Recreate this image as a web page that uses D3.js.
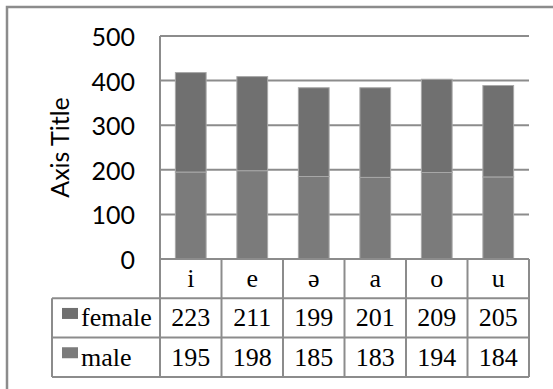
<!DOCTYPE html>
<html>
<head>
<meta charset="utf-8">
<script src="https://cdn.jsdelivr.net/npm/d3@7"></script>
<style>
  html, body { margin: 0; padding: 0; background: #fff; }
  svg { display: block; }
  .serif { font-family: "Liberation Serif", Tinos, "Times New Roman", Times, "DejaVu Serif", serif; }
</style>
</head>
<body>
<svg id="chart" width="553" height="389"></svg>
<script>
// Vowel values for two speaker groups, stacked per vowel
const categories = ["i", "e", "ə", "a", "o", "u"];
const femaleValues = [223, 211, 199, 201, 209, 205];
const maleValues = [195, 198, 185, 183, 194, 184];
const seriesNames = ["female", "male"];
const yTicks = [0, 100, 200, 300, 400, 500];
const yAxisTitle = "Axis Title";

const svg = d3.select("#chart");

const plot = { left: 160, right: 529, top: 36, bottom: 259 };
const table = { left: 52, rowH: 39.3 };

const x = d3.scaleBand().domain(categories).range([plot.left, plot.right]).padding(0);
const y = d3.scaleLinear().domain([0, 500]).range([plot.bottom, plot.top]);

const colors = { female: "#707070", male: "#7b7b7b" };
const lineColor = "#8c8c8c";

// outer chart frame (extends past the right and bottom edges)
svg.append("rect")
  .attr("x", 7).attr("y", 7)
  .attr("width", 600).attr("height", 450)
  .attr("fill", "none").attr("stroke", lineColor).attr("stroke-width", 2.5);

// horizontal gridlines
svg.append("g").selectAll("line")
  .data(yTicks.filter(d => d > 0))
  .join("line")
  .attr("x1", plot.left).attr("x2", plot.right)
  .attr("y1", d => y(d)).attr("y2", d => y(d))
  .attr("stroke", lineColor).attr("stroke-width", 2);

// y tick labels
svg.append("g").selectAll("text")
  .data(yTicks)
  .join("text")
  .attr("x", 135).attr("y", d => y(d))
  .attr("text-anchor", "end").attr("dominant-baseline", "central")
  .attr("font-family", "Lato, 'Open Sans', sans-serif").attr("font-size", 25)
  .attr("fill", "#000")
  .text(d => d);

// y axis title
svg.append("text")
  .attr("transform", `translate(59,${(plot.top + plot.bottom) / 2}) rotate(-90)`)
  .attr("text-anchor", "middle").attr("dominant-baseline", "central")
  .attr("font-family", "Lato, 'Open Sans', sans-serif").attr("font-size", 25)
  .attr("fill", "#000")
  .text(yAxisTitle);

// stacked bars: male at the bottom, female on top
const rows = categories.map((c, i) => ({ cat: c, male: maleValues[i], female: femaleValues[i] }));
const stack = d3.stack().keys(["male", "female"])(rows);
const barW = x.bandwidth() * 0.5;

const layers = svg.append("g").selectAll("g")
  .data(stack)
  .join("g")
  .attr("fill", d => colors[d.key]);

layers.selectAll("rect")
  .data(d => d)
  .join("rect")
  .attr("x", d => x(d.data.cat) + (x.bandwidth() - barW) / 2)
  .attr("width", barW)
  .attr("y", d => y(d[1]))
  .attr("height", d => y(d[0]) - y(d[1]))
  .attr("stroke", "#a8a8a8").attr("stroke-width", 1);

// data table
const rowTop0 = plot.bottom;
const rowTops = [rowTop0, rowTop0 + table.rowH, rowTop0 + 2 * table.rowH, rowTop0 + 3 * table.rowH];
const tbl = svg.append("g").attr("stroke", lineColor).attr("stroke-width", 2);

// horizontal table lines
tbl.append("line").attr("x1", plot.left).attr("x2", plot.right).attr("y1", rowTops[0]).attr("y2", rowTops[0]);
[1, 2, 3].forEach(i => {
  tbl.append("line").attr("x1", table.left).attr("x2", plot.right).attr("y1", rowTops[i]).attr("y2", rowTops[i]);
});
// vertical axis line of the plot area continuing through the table
tbl.append("line").attr("x1", plot.left).attr("x2", plot.left).attr("y1", plot.top).attr("y2", rowTops[3]);
// column separators
categories.forEach(c => {
  tbl.append("line")
    .attr("x1", x(c) + x.bandwidth()).attr("x2", x(c) + x.bandwidth())
    .attr("y1", rowTops[0]).attr("y2", rowTops[3]);
});
tbl.append("line").attr("x1", table.left).attr("x2", table.left).attr("y1", rowTops[1]).attr("y2", rowTops[3]);

// category labels
svg.append("g").selectAll("text")
  .data(categories)
  .join("text")
  .attr("class", "serif")
  .attr("x", d => x(d) + x.bandwidth() / 2)
  .attr("y", (rowTops[0] + rowTops[1]) / 2)
  .attr("text-anchor", "middle").attr("dominant-baseline", "central")
  .attr("font-size", 26)
  .text(d => d);

// series rows
const seriesData = [femaleValues, maleValues];
seriesNames.forEach((name, r) => {
  const cy = (rowTops[r + 1] + rowTops[r + 2]) / 2;
  svg.append("rect")
    .attr("x", 62).attr("y", cy - 10)
    .attr("width", 16).attr("height", 11)
    .attr("fill", colors[name]);
  svg.append("text")
    .attr("class", "serif")
    .attr("x", 81).attr("y", cy)
    .attr("dominant-baseline", "central")
    .attr("font-size", 26)
    .text(name);
  svg.append("g").selectAll("text")
    .data(seriesData[r].map((v, i) => ({ v, cat: categories[i] })))
    .join("text")
    .attr("class", "serif")
    .attr("x", d => x(d.cat) + x.bandwidth() / 2)
    .attr("y", cy)
    .attr("text-anchor", "middle").attr("dominant-baseline", "central")
    .attr("font-size", 26)
    .text(d => d.v);
});
</script>
</body>
</html>
